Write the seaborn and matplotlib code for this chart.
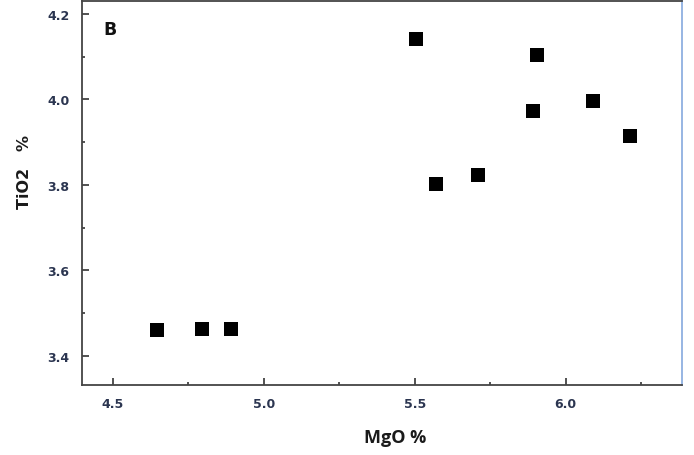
import matplotlib
matplotlib.use("Agg")
import matplotlib.pyplot as plt
from matplotlib.ticker import MultipleLocator
import seaborn as sns
import pandas as pd

mgo = [4.647, 4.796, 4.892, 5.504, 5.571, 5.710, 5.892, 5.905, 6.091, 6.214]
tio2 = [3.461, 3.463, 3.463, 4.141, 3.801, 3.822, 3.972, 4.104, 3.995, 3.915]

df = pd.DataFrame({"MgO": mgo, "TiO2": tio2})

sns.set_theme(style="white")
plt.rcParams['font.family'] = ['DejaVu Sans']

fig = plt.figure(figsize=(6.94, 4.56), dpi=100)
ax = fig.add_axes([82/694, 1-386/456, 600/694, 384/456])

sns.scatterplot(data=df, x="MgO", y="TiO2", marker="s", s=95, color="black",
                edgecolor="black", linewidth=0, ax=ax)

ax.set_xlim(4.398, 6.385)
ax.set_ylim(3.332, 4.23)
ax.xaxis.set_major_locator(MultipleLocator(0.5))
ax.xaxis.set_minor_locator(MultipleLocator(0.25))
ax.yaxis.set_major_locator(MultipleLocator(0.2))
ax.yaxis.set_minor_locator(MultipleLocator(0.1))
ax.tick_params(which="major", direction="in", length=5, width=1.2, color="#333333",
               labelsize=9, labelcolor="#2b3550", pad=9)
ax.tick_params(which="minor", direction="in", length=2.5, width=1.2, color="#333333")
ax.tick_params(axis="x", which="both", bottom=True, top=False)
ax.tick_params(axis="y", which="both", left=True, right=False)
for lab in ax.get_xticklabels() + ax.get_yticklabels():
    lab.set_fontweight("bold")

for side in ["left", "bottom", "top"]:
    ax.spines[side].set_color("#444444")
    ax.spines[side].set_linewidth(1.3)
ax.spines["right"].set_color("#8fb0e0")
ax.spines["right"].set_linewidth(1.3)

ax.set_xlabel("MgO %", fontsize=13, fontweight="bold", color="#1a1a1a",
              family=["Open Sans", "DejaVu Sans"])
ax.set_ylabel("TiO2   %", fontsize=11.5, fontweight="bold", color="#1a1a1a")
ax.xaxis.set_label_coords((395-82)/600, -(438-386)/384)
ax.xaxis.label.set_va("center")
ax.yaxis.set_label_coords(-(82-25)/600, (386-172)/384)
ax.yaxis.label.set_va("center")

fig.text(103/694, 1-30/456, "B", fontsize=12.5, fontweight="bold",
         ha="left", va="center", color="#111111")

fig.savefig("out.png", dpi=100)
